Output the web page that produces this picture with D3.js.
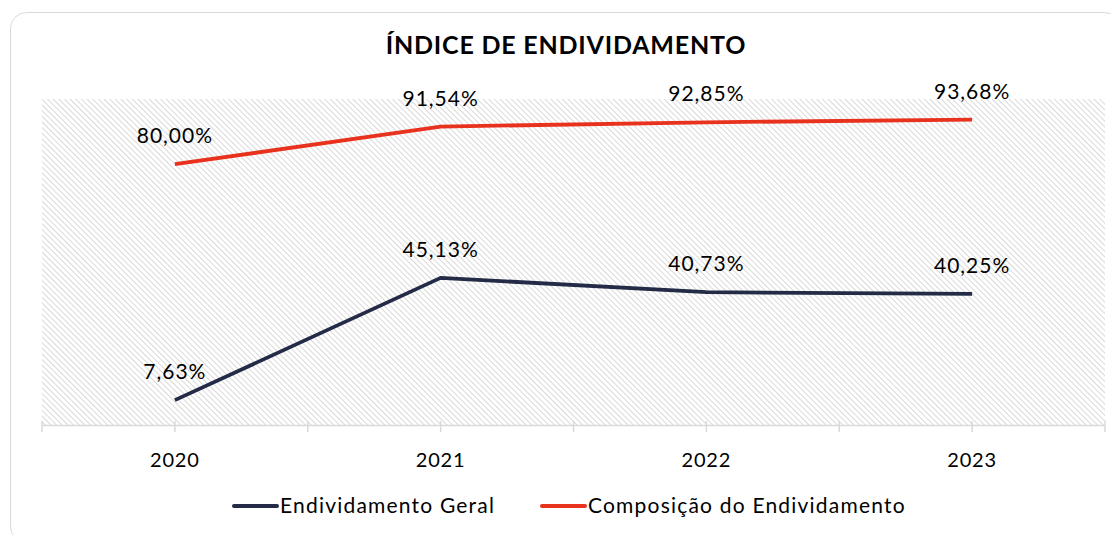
<!DOCTYPE html>
<html><head><meta charset="utf-8">
<script src="https://cdn.jsdelivr.net/npm/d3@7"></script>
<style>body{margin:0;background:#fff}svg{display:block}</style>
</head><body>
<script>
const categories = ["2020","2021","2022","2023"];
const geral = [7.63, 45.13, 40.73, 40.25];
const composicao = [80.00, 91.54, 92.85, 93.68];
const seriesNames = ["Endividamento Geral","Composição do Endividamento"];
const seriesColors = ["#232b47","#e8321e"];
const title = "ÍNDICE DE ENDIVIDAMENTO";

const W=1111,H=535;
const svg=d3.select("body").append("svg").attr("width",W).attr("height",H);
const font="Lato, 'Open Sans', sans-serif";

svg.append("rect").attr("x",10.5).attr("y",12.5).attr("width",1110).attr("height",530)
  .attr("rx",16).attr("fill","#fff").attr("stroke","#d9d9d9").attr("stroke-width",1);

const defs=svg.append("defs");
const pat=defs.append("pattern").attr("id","hatch").attr("patternUnits","userSpaceOnUse")
  .attr("width",4).attr("height",4).attr("patternTransform","rotate(45)");
pat.append("rect").attr("width",4).attr("height",4).attr("fill","#fff");
pat.append("line").attr("x1",0).attr("y1",0).attr("x2",4).attr("y2",0)
  .attr("stroke","#d9d9d9").attr("stroke-width",2);

const L=42,R=1105,T=99,B=425;
const x=d3.scaleBand().domain(categories).range([L,R]).padding(0);
const y=d3.scaleLinear().domain([0,100]).range([B,T]);
const cx=d=>x(d)+x.bandwidth()/2;

svg.append("rect").attr("x",L).attr("y",T).attr("width",R-L).attr("height",B-T).attr("fill","url(#hatch)");

// axis
const ax=svg.append("g").attr("transform",`translate(0,${B})`)
  .call(d3.axisBottom(x).tickSize(0).tickPadding(0));
ax.select(".domain").remove();
ax.selectAll("text").remove();
svg.append("line").attr("x1",L).attr("x2",R).attr("y1",B+0.5).attr("y2",B+0.5).attr("stroke","#d9d9d9").attr("stroke-width",1.5);
const tickPos=[];
categories.forEach(c=>{tickPos.push(x(c));tickPos.push(cx(c));});
tickPos.push(R);
svg.selectAll(".tk").data(tickPos).join("line").attr("x1",d=>d).attr("x2",d=>d)
  .attr("y1",B-4).attr("y2",B+7).attr("stroke","#d9d9d9").attr("stroke-width",1.5);
svg.selectAll(".cat").data(categories).join("text").attr("x",d=>cx(d)).attr("y",467)
  .attr("text-anchor","middle").attr("font-family",font).attr("font-size",20).attr("letter-spacing",0.8)
  .attr("fill","#000").text(d=>d);

// title
svg.append("text").attr("x",566).attr("y",54).attr("text-anchor","middle").attr("font-family",font)
  .attr("font-weight","bold").attr("font-size",25).attr("letter-spacing",0.8).attr("fill","#000").text(title);

const line=d3.line().x((d,i)=>cx(categories[i])).y(d=>y(d));
[geral,composicao].forEach((s,k)=>{
  svg.append("path").datum(s).attr("d",line).attr("fill","none").attr("stroke",seriesColors[k])
    .attr("stroke-width",3.8).attr("stroke-linejoin","round");
  svg.selectAll(".lb"+k).data(s).join("text").attr("x",(d,i)=>cx(categories[i])).attr("y",d=>y(d)-21)
    .attr("text-anchor","middle").attr("font-family",font).attr("font-size",21).attr("letter-spacing",1)
    .attr("fill","#000").text(d=>d.toFixed(2).replace(".",",")+"%");
});

// legend
const leg=[{x:234,tx:280},{x:542,tx:588}];
seriesNames.forEach((n,k)=>{
  svg.append("line").attr("x1",leg[k].x).attr("x2",leg[k].x+43).attr("y1",506).attr("y2",506)
    .attr("stroke",seriesColors[k]).attr("stroke-width",4).attr("stroke-linecap","round");
  svg.append("text").attr("x",leg[k].tx).attr("y",513).attr("font-family",font).attr("font-size",21)
    .attr("letter-spacing",1.2).attr("fill","#000").text(n);
});
</script>
</body></html>
